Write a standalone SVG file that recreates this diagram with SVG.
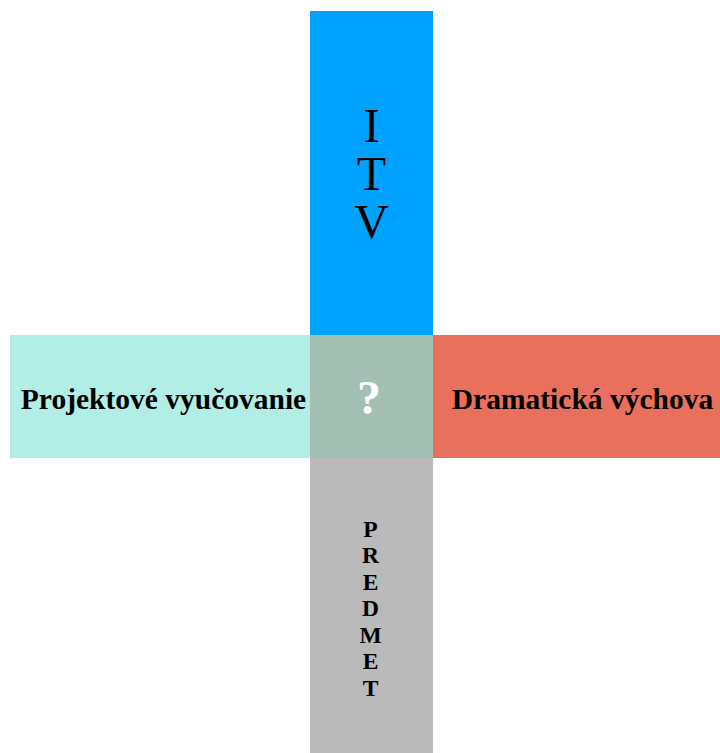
<svg xmlns="http://www.w3.org/2000/svg" width="720" height="753" viewBox="0 0 720 753">
<style>
.lbl{font-family:"Liberation Serif","Times New Roman",serif;fill:#000;}
.b{font-weight:bold;}
</style>
<rect width="720" height="753" fill="#fff"/>
<g id="itv">
<rect x="310" y="11" width="123" height="324" fill="#00A2FF"/>
<text class="lbl" x="371.5" text-anchor="middle" font-size="48"><tspan x="371.5" y="141.5">I</tspan><tspan x="371.5" y="189.5">T</tspan><tspan x="371.5" y="237.5">V</tspan></text>
</g>
<g id="projektove">
<rect x="10" y="335" width="300" height="123" fill="#B2EEE6"/>
<text class="lbl b" x="163.5" y="408.5" text-anchor="middle" font-size="29.5">Projektové vyučovanie</text>
</g>
<g id="dramaticka">
<rect x="433" y="335" width="287" height="123" fill="#E8705C"/>
<text class="lbl b" x="582.5" y="408.5" text-anchor="middle" font-size="29.5">Dramatická výchova</text>
</g>
<g id="predmet">
<rect x="310" y="458" width="123" height="295" fill="#BABABA"/>
<text class="lbl b" text-anchor="middle" font-size="23.5"><tspan x="370.5" y="536.5">P</tspan><tspan x="370.5" y="563">R</tspan><tspan x="370.5" y="589.5">E</tspan><tspan x="370.5" y="616">D</tspan><tspan x="370.5" y="642.5">M</tspan><tspan x="370.5" y="669">E</tspan><tspan x="370.5" y="695.5">T</tspan></text>
</g>
<g id="center">
<rect x="310" y="335" width="123" height="123" fill="#A3BFB3"/>
<text class="lbl b" x="369" y="414" text-anchor="middle" font-size="48" style="fill:#fff">?</text>
</g>
<g id="connectors"></g>
</svg>
